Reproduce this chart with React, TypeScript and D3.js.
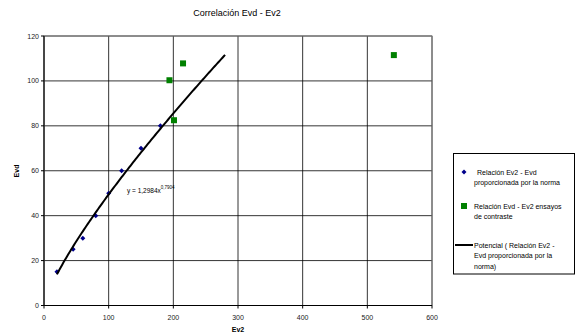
import React from "react"
import { scaleLinear, line, range } from "d3"

// values
const normaX = [20, 45, 60, 80, 100, 120, 150, 180]
const normaY = [15, 25, 30, 40, 50, 60, 70, 80]
const ensayoX = [194, 215, 201, 541]
const ensayoY = [100.3, 107.8, 82.5, 111.5]
const xTicks = [0, 100, 200, 300, 400, 500, 600]
const yTicks = [0, 20, 40, 60, 80, 100, 120]
const coefA = 1.2984
const coefB = 0.7904
const trendFrom = 20
const trendTo = 280

const legendItems = [
    { kind: "diamond", lines: ["Relación Ev2 - Evd", "proporcionada por la norma"] },
    { kind: "square", lines: ["Relación Evd - Ev2 ensayos", "de contraste"] },
    { kind: "line", lines: ["Potencial ( Relación Ev2 -", "Evd proporcionada por la", "norma)"] },
]

const font = "'Liberation Sans', Arial, sans-serif"

export default function App() {
    const width = 575
    const height = 336
    const plot = { left: 44, right: 432, top: 36, bottom: 305.5 }

    const x = scaleLinear().domain([0, 600]).range([plot.left, plot.right])
    const y = scaleLinear().domain([0, 120]).range([plot.bottom, plot.top])

    // trend curve sampled along x, y = a * x^b
    const trendPts = range(trendFrom, trendTo + 0.001, 2).map(v => [v, coefA * Math.pow(v, coefB)])
    const trendPath = line<number[]>()
        .x(d => x(d[0]))
        .y(d => y(d[1]))(trendPts)

    const legendY = [172, 206, 245]

    return (
        <svg width={width} height={height} style={{ position: "absolute", left: 0, top: 0, fontFamily: font }}>
            <rect width={width} height={height} fill="#fff" />
            <text x={237} y={16} textAnchor="middle" fontSize={9} fill="#000">Correlación Evd - Ev2</text>

            {/* grid */}
            {yTicks.map(t => (
                <line key={"gy" + t} x1={plot.left} x2={plot.right} y1={y(t)} y2={y(t)} stroke="#000" strokeWidth={0.8} />
            ))}
            {xTicks.map(t => (
                <line key={"gx" + t} x1={x(t)} x2={x(t)} y1={plot.top} y2={plot.bottom} stroke="#000" strokeWidth={0.8} />
            ))}
            <rect x={plot.left} y={plot.top} width={plot.right - plot.left} height={plot.bottom - plot.top}
                fill="none" stroke="#808080" strokeWidth={1} />
            <line x1={plot.left} x2={plot.left} y1={plot.top} y2={plot.bottom} stroke="#000" strokeWidth={1} />
            <line x1={plot.left} x2={plot.right} y1={plot.bottom} y2={plot.bottom} stroke="#000" strokeWidth={1} />

            {/* axes */}
            {yTicks.map(t => (
                <g key={"ty" + t}>
                    <line x1={plot.left - 3} x2={plot.left} y1={y(t)} y2={y(t)} stroke="#000" />
                    <text x={plot.left - 5} y={y(t) + 2.5} textAnchor="end" fontSize={7} fill="#222">{t}</text>
                </g>
            ))}
            {xTicks.map(t => (
                <g key={"tx" + t}>
                    <line x1={x(t)} x2={x(t)} y1={plot.bottom} y2={plot.bottom + 3} stroke="#000" />
                    <text x={x(t)} y={plot.bottom + 14} textAnchor="middle" fontSize={7} fill="#222">{t}</text>
                </g>
            ))}
            <text x={238} y={332} textAnchor="middle" fontSize={7} fontWeight="bold">Ev2</text>
            <text transform="translate(19,171) rotate(-90)" textAnchor="middle" fontSize={7} fontWeight="bold">Evd</text>

            {/* series */}
            {normaX.map((v, i) => (
                <path key={"n" + i} d="M0,-2.5L2.5,0L0,2.5L-2.5,0Z" fill="#00008b"
                    transform={"translate(" + x(v) + "," + y(normaY[i]) + ")"} />
            ))}
            <path d={trendPath ?? ""} fill="none" stroke="#000" strokeWidth={2} />
            {ensayoX.map((v, i) => (
                <rect key={"e" + i} x={x(v) - 3} y={y(ensayoY[i]) - 3} width={6} height={6} fill="#008000" />
            ))}

            <text x={127} y={193} fontSize={6.5} fill="#000">
                y = 1,2984x<tspan dy={-4} fontSize={4.5}>0,7904</tspan>
            </text>

            {/* legend */}
            <rect x={453.5} y={153.5} width={121} height={120.5} fill="#fff" stroke="#000" strokeWidth={1} />
            {legendItems.map((item, i) => (
                <g key={"l" + i}>
                    {item.kind === "diamond" && (
                        <path d="M0,-2.5L2.5,0L0,2.5L-2.5,0Z" fill="#00008b"
                            transform={"translate(464," + legendY[i] + ")"} />
                    )}
                    {item.kind === "square" && (
                        <rect x={461} y={legendY[i] - 3} width={6} height={6} fill="#008000" />
                    )}
                    {item.kind === "line" && (
                        <line x1={455} x2={473} y1={legendY[i]} y2={legendY[i]} stroke="#000" strokeWidth={2} />
                    )}
                    {item.lines.map((s, j) => (
                        <text key={j} x={item.kind === "diamond" && j === 0 ? 477 : 474}
                            y={legendY[i] + 2.5 + j * 10.5} fontSize={7} fill="#000">{s}</text>
                    ))}
                </g>
            ))}
        </svg>
    )
}
